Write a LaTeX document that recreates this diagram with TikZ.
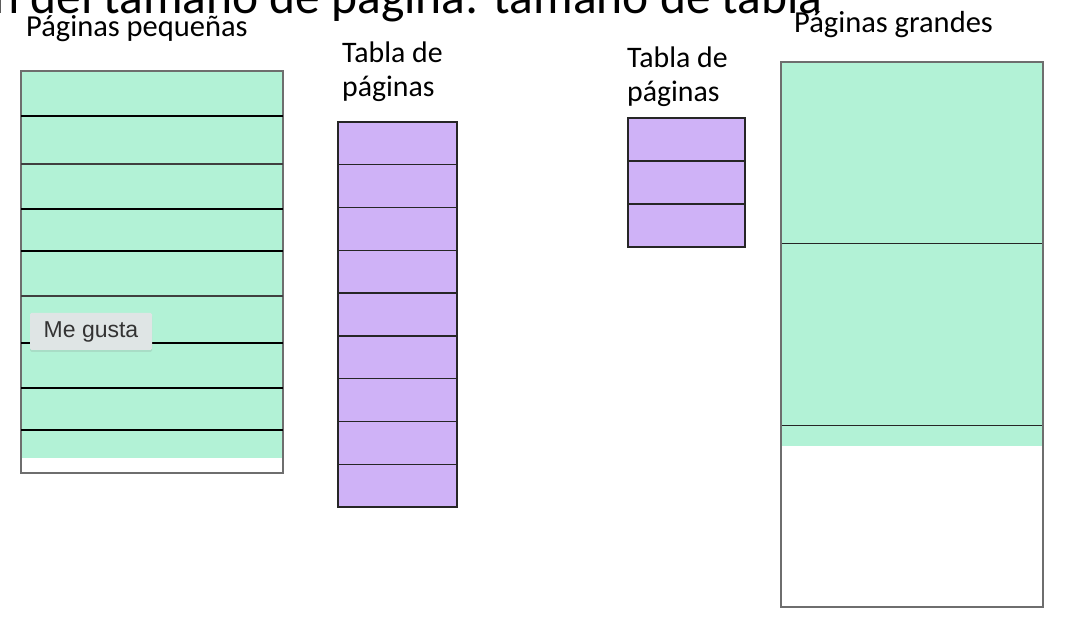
\documentclass[tikz,border=0pt]{standalone}
\usepackage{fontspec}
\setmainfont{Carlito}
\newfontfamily\tipfont{Liberation Sans}
\usepackage{xcolor}
\usepackage{tikz}
\usetikzlibrary{shadows}
\definecolor{mint}{HTML}{B2F2D6}
\definecolor{lilac}{HTML}{CFB2F7}
\definecolor{frame}{HTML}{6E6E6E}
\definecolor{tipbg}{HTML}{DFE5E5}
\definecolor{tiptext}{HTML}{333333}
\tikzset{
  outer/.style={draw=frame, line width=1.3pt},
  row/.style={draw=black, line width=2pt},
  rowthin/.style={draw=black!75, line width=1.1pt},
  cell/.style={draw=black!85, line width=1.3pt},
  lab/.style={font=\fontsize{30.5}{34}\selectfont, align=left, inner sep=0pt, anchor=base west},
  labt/.style={lab, font=\fontsize{29.8}{34}\selectfont},
  ttl/.style={font=\fontsize{49.5}{54}\selectfont, inner sep=0pt, anchor=base east},
  tip/.style={fill=tipbg, text=tiptext, font=\tipfont\fontsize{23}{26}\selectfont,
    minimum width=122pt, minimum height=37pt, inner sep=0pt, rounded corners=1.5pt,
    drop shadow={shadow xshift=0pt, shadow yshift=-2pt, opacity=0.18}},
}
\begin{document}
\begin{tikzpicture}[x=1pt,y=-1pt]
  \useasboundingbox (0,0) rectangle (1072,628);

  % title, cut at the top edge
  \node[ttl] (title) at (823,14) {ión del tamaño de página: tamaño de tabla};

  % small pages
  \coordinate (P1) at (21,71);
  \coordinate (P2) at (283,473);
  \fill[mint] (P1) rectangle (283,458);
  \draw[outer] (P1) rectangle (P2);
  \draw[row] (21,116) -- (283,116);
  \draw[rowthin] (21,164) -- (283,164);
  \draw[row] (21,209) -- (283,209);
  \draw[row] (21,251) -- (283,251);
  \draw[rowthin] (21,296) -- (283,296);
  \draw[row] (21,343) -- (283,343);
  \draw[row] (21,388) -- (283,388);
  \draw[row] (21,430) -- (283,430);
  \node[lab] (small) at (26,37) {Páginas pequeñas};

  % page table, small pages
  \coordinate (T1) at (338,122);
  \coordinate (T2) at (457,507);
  \fill[lilac] (T1) rectangle (T2);
  \draw[cell] (338,164.8) -- (457,164.8);
  \draw[cell] (338,207.6) -- (457,207.6);
  \draw[cell] (338,250.3) -- (457,250.3);
  \draw[cell] (338,293.1) -- (457,293.1);
  \draw[cell] (338,335.9) -- (457,335.9);
  \draw[cell] (338,378.7) -- (457,378.7);
  \draw[cell] (338,421.4) -- (457,421.4);
  \draw[cell] (338,464.2) -- (457,464.2);
  \draw[cell] (T1) rectangle (T2);
  \node[labt] (tabA) at (342,97) {Tabla de\\páginas};

  % page table, large pages
  \coordinate (U1) at (628,118);
  \coordinate (U2) at (745,247);
  \fill[lilac] (U1) rectangle (U2);
  \draw[cell] (628,161) -- (745,161);
  \draw[cell] (628,204) -- (745,204);
  \draw[cell] (U1) rectangle (U2);
  \node[labt] (tabB) at (627,102) {Tabla de\\páginas};

  % large pages
  \coordinate (G1) at (781,62);
  \coordinate (G2) at (1043,607);
  \fill[mint] (G1) rectangle (1043,446);
  \draw[cell, line width=1pt] (781,244) -- (1043,244);
  \draw[cell, line width=1pt] (781,426) -- (1043,426);
  \draw[outer] (G1) rectangle (G2);
  \node[lab] (big) at (794,33) {Páginas grandes};

  % tooltip
  \node[tip] (like) at (91,331.5) {Me gusta};
\end{tikzpicture}
\end{document}
